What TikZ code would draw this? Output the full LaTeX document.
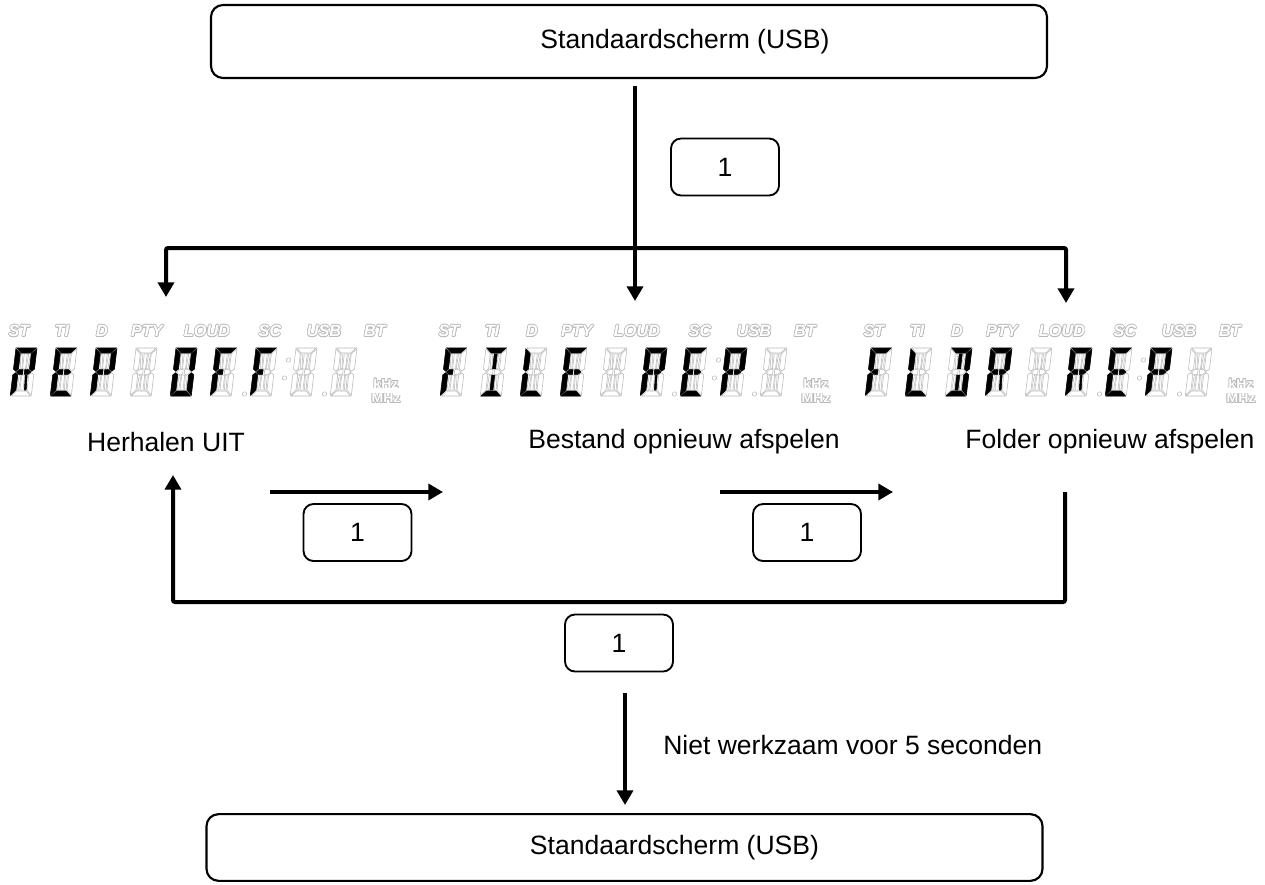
\documentclass[tikz,border=0pt]{standalone}
\usepackage{fontspec}
\setmainfont{Liberation Sans}
\usetikzlibrary{arrows.meta}

% 14-segment cell geometry (px units, y downward, unslanted), W=21, H=48
\expandafter\def\csname spa\endcsname{(0.8,0) -- (20.2,0) -- (15.2,5) -- (5.8,5) -- cycle}
\expandafter\def\csname spd\endcsname{(0.8,48) -- (20.2,48) -- (15.2,43) -- (5.8,43) -- cycle}
\expandafter\def\csname spf\endcsname{(0,0.8) -- (5,5.8) -- (5,21) -- (2.5,23.2) -- (0,21) -- cycle}
\expandafter\def\csname spe\endcsname{(0,27) -- (2.5,24.8) -- (5,27) -- (5,42.2) -- (0,47.2) -- cycle}
\expandafter\def\csname spb\endcsname{(21,0.8) -- (16,5.8) -- (16,21) -- (18.5,23.2) -- (21,21) -- cycle}
\expandafter\def\csname spc\endcsname{(21,27) -- (18.5,24.8) -- (16,27) -- (16,42.2) -- (21,47.2) -- cycle}
\expandafter\def\csname spgA\endcsname{(3.3,24) -- (5.8,21.7) -- (9.7,21.7) -- (9.7,26.3) -- (5.8,26.3) -- cycle}
\expandafter\def\csname spgB\endcsname{(11.3,21.7) -- (15.2,21.7) -- (17.7,24) -- (15.2,26.3) -- (11.3,26.3) -- cycle}
\expandafter\def\csname spi\endcsname{(9,5.8) -- (12,5.8) -- (12,20.9) -- (9,20.9) -- cycle}
\expandafter\def\csname spl\endcsname{(9,27.1) -- (12,27.1) -- (12,42.2) -- (9,42.2) -- cycle}
\expandafter\def\csname sph\endcsname{(5.8,5.8) -- (7.6,5.8) -- (8.4,20.9) -- (6.6,20.9) -- cycle}
\expandafter\def\csname spj\endcsname{(15.2,5.8) -- (13.4,5.8) -- (12.6,20.9) -- (14.4,20.9) -- cycle}
\expandafter\def\csname spk\endcsname{(6.6,27.1) -- (8.4,27.1) -- (7.6,42.2) -- (5.8,42.2) -- cycle}
\expandafter\def\csname spm\endcsname{(12.6,27.1) -- (14.4,27.1) -- (15.2,42.2) -- (13.4,42.2) -- cycle}
\expandafter\def\csname spnone\endcsname{}

\newcommand\lcdcell[3]{%
  \begin{scope}[shift={(#1,#2)}, xslant=0.12]
    \foreach \s in {a,b,c,d,e,f,gA,gB,h,i,j,k,l,m}{%
      \expandafter\let\expandafter\segpath\csname sp\s\endcsname
      \path[unlit] \segpath;}
    \foreach \s in {#3}{%
      \expandafter\let\expandafter\segpath\csname sp\s\endcsname
      \path[lit] \segpath;}
  \end{scope}}

% hollow (outlined) grey text
\newcommand\hollow[4]{% style, x, y, text
  \foreach \ang in {0,30,...,330}{%
    \node[#1, text=gray!55, shift={(\ang:0.5pt)}] at (#2,#3) {#4};}
  \node[#1, text=white] at (#2,#3) {#4};}

\newcommand\lcddisp[9]{%
  \lcdcell{#1+16}{348}{#2}
  \lcdcell{#1+56}{348}{#3}
  \lcdcell{#1+96}{348}{#4}
  \lcdcell{#1+136}{348}{#5}
  \lcdcell{#1+176}{348}{#6}
  \lcdcell{#1+216}{348}{#7}
  \lcdcell{#1+256}{348}{#8}
  \lcdcell{#1+296}{348}{#9}
  \lcdcell{#1+336}{348}{none}
  \begin{scope}[shift={(#1,348)}, xslant=0.12]
    \draw[unlit] (250,46) circle[radius=2.2];
    \draw[unlit] (290,12) circle[radius=2.2];
    \draw[unlit] (288,30) circle[radius=2.2];
    \draw[unlit] (330,46) circle[radius=2.2];
  \end{scope}
  \hollow{ind}{#1+19}{331}{ST}
  \hollow{ind}{#1+62}{331}{TI}
  \hollow{ind}{#1+102}{331}{D}
  \hollow{ind}{#1+147}{331}{PTY}
  \hollow{ind}{#1+207}{331}{LOUD}
  \hollow{ind}{#1+270}{331}{SC}
  \hollow{ind}{#1+324}{331}{USB}
  \hollow{ind}{#1+375}{331}{BT}
  \hollow{unit}{#1+386}{383.5}{kHz}
  \hollow{unit}{#1+386}{398.5}{MHz}
}

\begin{document}
\begin{tikzpicture}[x=0.75pt,y=-0.75pt,
  unlit/.style={draw=gray!55, line width=0.4pt, fill=white},
  lit/.style={draw=black, fill=black, line width=0.4pt},
  ind/.style={inner sep=0pt, font=\fontsize{12.2}{14}\selectfont\bfseries\itshape},
  unit/.style={inner sep=0pt, font=\fontsize{9.6}{11}\selectfont\bfseries, xscale=1.1},
  mainbox/.style={draw, line width=1.6pt, rounded corners=9pt, inner sep=0pt,
    minimum width=627pt},
  keybox/.style={draw, line width=1.4pt, rounded corners=7.5pt, inner sep=0pt,
    minimum width=81pt, minimum height=42.75pt, font=\fontsize{19.9}{24}\selectfont},
  txt/.style={inner sep=0pt, font=\fontsize{19.9}{24}\selectfont},
  arr/.style={line width=3pt, -{Triangle[length=11pt,width=12pt]}},
  arrboth/.style={line width=3pt, rounded corners=1.5pt,
    {Triangle[length=11pt,width=12pt]}-{Triangle[length=11pt,width=12pt]}}
]
\useasboundingbox (0,0) rectangle (1265,885);

% boxes
\node[mainbox, minimum height=54.75pt,
  label={[txt, xshift=42pt]center:Standaardscherm (USB)}] (top) at (629,41.5) {};
\node[mainbox, minimum height=50pt,
  label={[txt, xshift=37.5pt]center:Standaardscherm (USB)}] (bot) at (624.5,847.5) {};
\node[keybox] (k1) at (725,167) {1};
\node[keybox] (k2) at (357.5,532.5) {1};
\node[keybox] (k3) at (807,532.5) {1};
\node[keybox] (k4) at (619,643) {1};

% LCD displays
\lcddisp{0}{a,b,f,e,gA,gB,m}{a,f,e,d,gA,gB}{a,b,f,e,gA,gB}{none}{a,b,c,d,e,f}{a,f,e,gA}{a,f,e,gA}{none}
\lcddisp{430}{a,f,e,gA}{a,d,i,l}{f,e,d}{a,f,e,d,gA,gB}{none}{a,b,f,e,gA,gB,m}{a,f,e,d,gA,gB}{a,b,f,e,gA,gB}
\lcddisp{855}{a,f,e,gA}{f,e,d}{a,b,c,d,i,l}{a,b,f,e,gA,gB,m}{none}{a,b,f,e,gA,gB,m}{a,f,e,d,gA,gB}{a,b,f,e,gA,gB}

% labels
\node[txt] (t1) at (166,442) {Herhalen UIT};
\node[txt] (t2) at (684,442) {Bestand opnieuw afspelen};
\node[txt] (t3) at (1110,442) {Folder opnieuw afspelen};
\node[txt, anchor=west] (t4) at (663,745) {Niet werkzaam voor 5 seconden};

% connector coordinates
\coordinate (c0) at (635,86);
\coordinate (c1) at (635,301);
\coordinate (bl) at (166,297);
\coordinate (blc) at (166,248);
\coordinate (brc) at (1066,248);
\coordinate (br) at (1066,303);
\coordinate (r1s) at (270,492);
\coordinate (r1e) at (443,492);
\coordinate (r2s) at (720,492);
\coordinate (r2e) at (893,492);
\coordinate (ls) at (1065,492);
\coordinate (lc1) at (1065,602);
\coordinate (lc2) at (173,602);
\coordinate (le) at (173,475);
\coordinate (ds) at (625,693);
\coordinate (de) at (625,805);

\draw[arrboth] (bl) -- (blc) -- (brc) -- (br);
\draw[arr] (c0) -- (c1);
\draw[arr] (r1s) -- (r1e);
\draw[arr] (r2s) -- (r2e);
\draw[arr, rounded corners=1.5pt] (ls) -- (lc1) -- (lc2) -- (le);
\draw[arr] (ds) -- (de);
\end{tikzpicture}
\end{document}
